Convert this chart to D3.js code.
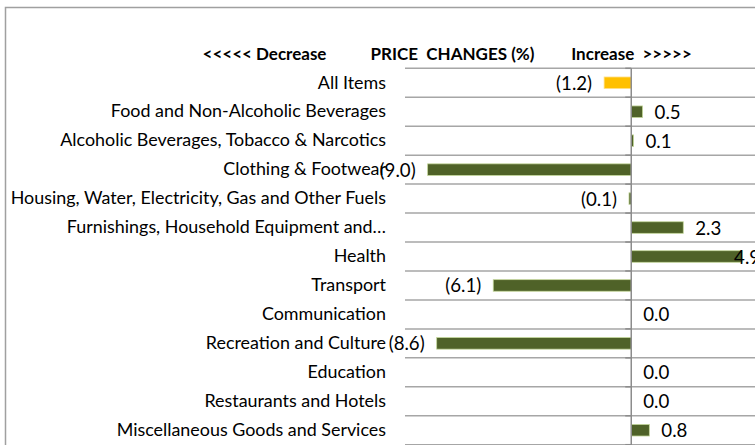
<!DOCTYPE html>
<html>
<head>
<meta charset="utf-8">
<script src="https://cdn.jsdelivr.net/npm/d3@7"></script>
<style>
  html, body { margin: 0; padding: 0; background: #fff; }
  svg { display: block; }
  text { font-family: "Lato", sans-serif; fill: #000; white-space: pre; }
</style>
</head>
<body>
<div id="chart"></div>
<script>
const categories = [
  "All Items",
  "Food and Non-Alcoholic Beverages",
  "Alcoholic Beverages, Tobacco & Narcotics",
  "Clothing & Footwear",
  "Housing, Water, Electricity, Gas and Other Fuels",
  "Furnishings, Household Equipment and…",
  "Health",
  "Transport",
  "Communication",
  "Recreation and Culture",
  "Education",
  "Restaurants and Hotels",
  "Miscellaneous Goods and Services"
];
const values = [-1.2, 0.5, 0.1, -9.0, -0.1, 2.3, 4.9, -6.1, 0.0, -8.6, 0.0, 0.0, 0.8];
const highlighted = ["All Items"];
const titleParts = ["<<<<< Decrease", "PRICE  CHANGES (%)", "Increase  >>>>>"];
const xDomain = [-10, 6];

const W = 755, H = 445;
const plotLeft = 405, plotRight = 767, plotTop = 68.3, plotBottom = 444.7;
const catFont = 17.9, valFont = 18.67, titleFont = 17;

const data = categories.map((c, i) => ({ cat: c, value: values[i] }));

const svg = d3.select("#chart").append("svg")
  .attr("width", W).attr("height", H);

// chart frame
svg.append("rect")
  .attr("x", 5.5).attr("y", 7.5)
  .attr("width", 900).attr("height", 600)
  .attr("fill", "none").attr("stroke", "#a0a0a0").attr("stroke-width", 1.5);

const x = d3.scaleLinear().domain(xDomain).range([plotLeft, plotRight]);
const y = d3.scaleBand().domain(categories).range([plotTop, plotBottom])
  .paddingInner(0.6).paddingOuter(0.3);

const step = y.step();
const boundaries = d3.range(categories.length + 1).map(i => plotTop + i * step);

// horizontal category gridlines
svg.append("g").selectAll("line").data(boundaries).join("line")
  .attr("x1", plotLeft).attr("x2", plotRight + 10)
  .attr("y1", d => d).attr("y2", d => d)
  .attr("stroke", "#a6a6a6").attr("stroke-width", 1.5);

// small tick marks at the axis
svg.append("g").selectAll("line").data(boundaries).join("line")
  .attr("x1", x(0) - 6).attr("x2", x(0))
  .attr("y1", d => d).attr("y2", d => d)
  .attr("stroke", "#8c8c8c").attr("stroke-width", 1.5);

// bars
svg.append("g").selectAll("rect").data(data).join("rect")
  .attr("x", d => x(Math.min(0, d.value)))
  .attr("width", d => Math.abs(x(d.value) - x(0)))
  .attr("y", d => y(d.cat))
  .attr("height", y.bandwidth())
  .attr("fill", d => highlighted.includes(d.cat) ? "#FFC000" : "#4F6228")
  .attr("stroke", d => highlighted.includes(d.cat) ? "#ffe08a" : "#c4d79b")
  .attr("stroke-width", d => d.value === 0 ? 0 : 0.8);

// zero axis line
svg.append("line")
  .attr("x1", x(0)).attr("x2", x(0))
  .attr("y1", plotTop).attr("y2", plotBottom + 5)
  .attr("stroke", "#8c8c8c").attr("stroke-width", 1.5);

// category labels
const yAxis = d3.axisLeft(y).tickSize(0).tickPadding(0);
const gy = svg.append("g").attr("transform", `translate(386,0)`).call(yAxis);
gy.select(".domain").remove();
gy.selectAll("text")
  .attr("font-size", catFont)
  .style("font-family", '"Lato", sans-serif')
  .attr("fill", "#000");

// value labels
const fmt = d3.format(".1f");
const labelText = v => v < 0 ? `(${fmt(-v)})` : fmt(v);
svg.append("g").selectAll("text").data(data).join("text")
  .attr("font-size", valFont)
  .attr("dominant-baseline", "central")
  .attr("y", d => y(d.cat) + y.bandwidth() / 2)
  .text(d => labelText(d.value))
  .each(function(d) {
    const t = d3.select(this);
    const w = this.getComputedTextLength();
    if (d.value < 0) {
      t.attr("text-anchor", "end").attr("x", x(d.value) - 12);
    } else if (x(d.value) + 12 + w > W) {
      t.attr("text-anchor", "end").attr("x", x(d.value) + 18);
    } else {
      t.attr("text-anchor", "start").attr("x", x(d.value) + 12);
    }
  });

// title
const titleCenters = [264.5, 452.5, 631.5];
svg.append("g").selectAll("text").data(titleParts).join("text")
  .attr("x", (d, i) => titleCenters[i])
  .attr("y", 60)
  .attr("text-anchor", "middle")
  .attr("font-size", titleFont)
  .attr("font-weight", "bold")
  .text(d => d);
</script>
</body>
</html>
